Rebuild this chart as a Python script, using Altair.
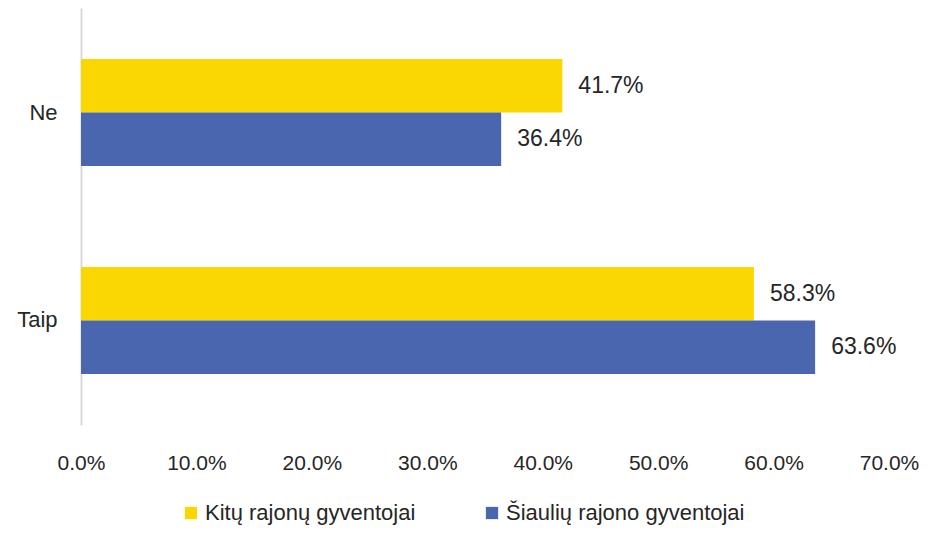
import altair as alt
import pandas as pd

categories = ["Ne", "Ne", "Taip", "Taip"]
series = ["Kitų rajonų gyventojai", "Šiaulių rajono gyventojai",
          "Kitų rajonų gyventojai", "Šiaulių rajono gyventojai"]
values = [0.417, 0.364, 0.583, 0.636]

series_order = ["Kitų rajonų gyventojai", "Šiaulių rajono gyventojai"]
colors = ["#FAD700", "#4A66AE"]
x_ticks = [0, 0.1, 0.2, 0.3, 0.4, 0.5, 0.6, 0.7]

df = pd.DataFrame({"cat": categories, "series": series, "value": values})

FONT = "Liberation Sans"
TXT = "#262626"

y_enc = alt.Y("cat:N", sort=["Ne", "Taip"], title=None,
              scale=alt.Scale(paddingInner=0.485, paddingOuter=0.245),
              axis=alt.Axis(domainColor="#D9D9D9", domainWidth=2, ticks=False,
                            labelFontSize=22, labelFont=FONT, labelColor=TXT,
                            labelPadding=24))
yoff = alt.YOffset("series:N", sort=series_order,
                   scale=alt.Scale(paddingInner=0, paddingOuter=0))
x_enc = alt.X("value:Q", title=None,
              scale=alt.Scale(domain=[0, 0.7], nice=False),
              axis=alt.Axis(values=x_ticks, format=".1%", domain=False, ticks=False,
                            grid=False, labelFlush=False, labelFontSize=21,
                            labelFont=FONT, labelColor=TXT, labelPadding=27))

bars = alt.Chart(df).mark_bar().encode(
    x=x_enc,
    y=y_enc,
    yOffset=yoff,
    color=alt.Color("series:N", sort=series_order,
                    scale=alt.Scale(domain=series_order, range=colors),
                    legend=alt.Legend(title=None, orient="none", legendX=99, legendY=494,
                                      direction="horizontal", symbolType="square",
                                      symbolSize=150, symbolStrokeWidth=0,
                                      labelFontSize=22, labelFont=FONT, labelColor=TXT,
                                      labelLimit=400, labelOffset=3, columnPadding=65,
                                      padding=0)),
)

labels = alt.Chart(df).mark_text(align="left", baseline="middle", dx=16,
                                 fontSize=23, font=FONT, color=TXT).encode(
    x="value:Q",
    y=alt.Y("cat:N", sort=["Ne", "Taip"]),
    yOffset=alt.YOffset("series:N", sort=series_order),
    text=alt.Text("value:Q", format=".1%"),
)

chart = (bars + labels).properties(
    width=808, height=417,
    autosize=alt.AutoSizeParams(type="none"),
    padding={"left": 73, "top": 0, "right": 31, "bottom": 100},
).configure_view(stroke=None)

chart.save("out.html", embed_options={"renderer": "svg", "actions": False})
